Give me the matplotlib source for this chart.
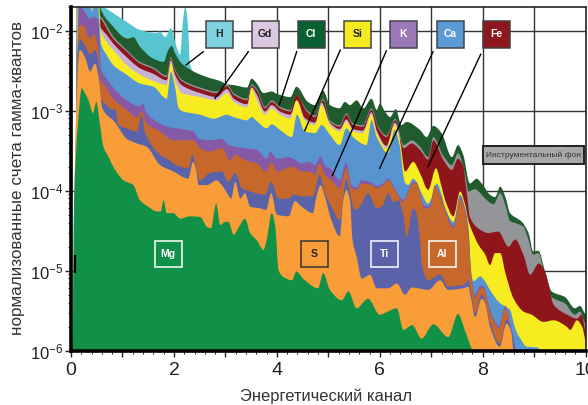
import matplotlib
matplotlib.use("Agg")
import matplotlib.pyplot as plt
import numpy as np
from matplotlib.patches import PathPatch, Rectangle
from matplotlib.path import Path

plt.rcParams.update(
    {
        "font.family": ["Liberation Sans", "DejaVu Sans"],
        "mathtext.fontset": "custom",
        "mathtext.rm": "Liberation Sans",
        "mathtext.default": "regular",
    }
)

# upper edge of every coloured band, log10 of the normalised counts
h_x = [0.10, 0.15, 0.56, 0.82, 1.08, 1.34, 1.67, 1.73, 1.83, 1.94, 2.05, 2.12, 2.17, 2.22, 2.27, 2.31, 2.37, 2.44, 2.60]
h_y = [-3.0, -1.60, -1.68, -1.78, -1.89, -1.99, -2.03, -2.01, -2.08, -1.97, -2.20, -2.30, -1.91, -1.70, -1.91, -2.41, -2.51, -2.55, -6.0]

cl_x = [0.03, 0.05, 0.08, 0.10, 0.11, 0.50, 0.56, 0.63, 0.82, 1.02, 1.11, 1.21, 1.34, 1.60, 1.80, 1.89, 1.96, 2.02, 2.15, 2.38, 2.64, 2.90, 3.03, 3.16, 3.42, 3.51, 3.61, 3.74, 3.90, 4.00, 4.26, 4.38, 4.60, 4.74, 4.90, 5.03, 5.22, 5.32, 5.42, 5.55, 5.68, 5.84, 5.94, 6.00, 6.10, 6.20, 6.31, 6.42, 6.52, 6.78, 6.91, 7.04, 7.20, 7.40, 7.52, 7.62, 7.75, 7.88, 7.98, 8.14, 8.24, 8.34, 8.44, 8.53, 8.76, 8.89, 8.98, 9.08, 9.21, 9.34, 9.60, 9.79, 9.89, 10.01]
cl_y = [-6.0, -5.3, -4.0, -3.0, -1.6, -1.6, -1.70, -1.80, -1.95, -2.08, -2.10, -2.08, -2.20, -2.35, -2.39, -2.24, -2.19, -2.28, -2.41, -2.51, -2.58, -2.63, -2.67, -2.68, -2.71, -2.60, -2.66, -2.78, -2.76, -2.79, -2.83, -2.70, -2.89, -2.93, -2.75, -2.93, -2.97, -2.89, -2.93, -2.87, -2.97, -2.85, -2.99, -2.91, -3.01, -3.08, -2.98, -3.18, -3.14, -3.24, -3.33, -3.19, -3.28, -3.58, -3.43, -3.55, -3.91, -3.85, -3.91, -4.05, -4.08, -3.95, -4.08, -4.28, -4.39, -4.53, -4.76, -4.75, -5.01, -5.26, -5.33, -5.47, -5.44, -5.55]

bg_x = [0.11, 0.13, 0.60, 0.82, 1.08, 1.34, 1.60, 1.86, 1.94, 2.02, 2.15, 2.51, 2.83, 3.03, 3.16, 3.42, 3.51, 3.61, 3.77, 3.90, 4.06, 4.26, 4.39, 4.58, 4.74, 4.90, 5.03, 5.22, 5.35, 5.48, 5.67, 5.84, 5.97, 6.13, 6.30, 6.46, 6.62, 6.78, 6.94, 7.04, 7.23, 7.40, 7.52, 7.66, 7.72, 7.85, 7.95, 8.05, 8.21, 8.34, 8.44, 8.53, 8.66, 8.79, 8.89, 8.98, 9.08, 9.20, 9.34, 9.60, 9.79, 9.89, 10.01]
bg_y = [-4.0, -1.6, -1.84, -2.07, -2.24, -2.39, -2.46, -2.56, -2.33, -2.48, -2.61, -2.71, -2.76, -2.67, -2.78, -2.85, -2.67, -2.73, -2.95, -2.87, -2.95, -2.99, -2.81, -2.99, -3.06, -2.85, -3.12, -3.18, -3.03, -3.16, -3.18, -2.97, -3.20, -3.31, -3.10, -3.43, -3.37, -3.45, -3.58, -3.33, -3.56, -3.68, -3.53, -3.80, -4.01, -3.98, -4.03, -4.10, -4.17, -4.03, -4.18, -4.38, -4.41, -4.45, -4.62, -4.80, -4.78, -5.05, -5.33, -5.41, -5.55, -5.51, -5.68]

fe_x = [0.11, 0.13, 0.60, 0.69, 0.82, 1.08, 1.34, 1.60, 1.86, 1.94, 2.02, 2.15, 2.51, 2.83, 3.03, 3.16, 3.42, 3.51, 3.61, 3.77, 3.90, 4.06, 4.26, 4.38, 4.58, 4.74, 4.90, 5.03, 5.22, 5.35, 5.48, 5.67, 5.84, 5.97, 6.13, 6.30, 6.46, 6.62, 6.78, 6.94, 7.04, 7.23, 7.40, 7.52, 7.62, 7.69, 7.75, 7.91, 8.11, 8.30, 8.50, 8.63, 8.79, 8.92, 9.09, 9.22, 9.38, 9.64, 9.83, 9.92, 10.01]
fe_y = [-4.0, -1.6, -1.87, -1.97, -2.10, -2.26, -2.41, -2.48, -2.58, -2.35, -2.50, -2.63, -2.73, -2.78, -2.69, -2.80, -2.87, -2.69, -2.75, -2.97, -2.89, -2.97, -3.01, -2.80, -3.01, -3.08, -2.87, -3.14, -3.20, -3.05, -3.18, -3.20, -2.99, -3.22, -3.33, -3.12, -3.47, -3.41, -3.49, -3.61, -3.37, -3.61, -3.74, -3.60, -3.70, -4.03, -4.33, -4.47, -4.53, -4.51, -4.70, -4.61, -4.80, -5.05, -4.91, -5.03, -5.43, -5.55, -5.60, -5.55, -5.78]

gd_x = [0.11, 0.13, 0.58, 0.69, 0.82, 1.08, 1.34, 1.60, 1.86, 1.94, 2.02, 2.15, 2.51, 2.83, 3.03, 3.16, 3.42, 3.51, 3.61, 3.77, 3.90, 4.06, 4.26, 4.39, 4.54, 4.74, 4.87, 5.03, 5.22, 5.35, 5.48, 5.67, 5.84, 5.94, 6.13, 6.29, 6.39, 6.41]
gd_y = [-4.0, -1.6, -1.97, -2.05, -2.16, -2.33, -2.47, -2.54, -2.62, -2.37, -2.55, -2.68, -2.78, -2.83, -2.73, -2.85, -2.92, -2.71, -2.80, -3.01, -2.93, -3.01, -3.05, -2.87, -3.09, -3.15, -2.90, -3.15, -3.23, -3.11, -3.23, -3.25, -3.02, -3.25, -3.44, -3.15, -3.34, -6.0]

si_x = [0.11, 0.13, 0.55, 0.58, 0.69, 0.82, 1.08, 1.34, 1.60, 1.86, 1.94, 2.02, 2.15, 2.51, 2.83, 3.03, 3.16, 3.42, 3.51, 3.61, 3.77, 3.90, 4.06, 4.26, 4.38, 4.54, 4.74, 4.87, 5.03, 5.22, 5.35, 5.48, 5.67, 5.84, 5.94, 6.13, 6.29, 6.39, 6.49, 6.65, 6.78, 6.94, 7.09, 7.20, 7.27, 7.43, 7.56, 7.66, 7.72, 7.79, 7.92, 8.05, 8.14, 8.24, 8.34, 8.44, 8.60, 8.79, 8.95, 9.18, 9.38, 9.63, 9.70, 9.83, 9.93, 10.02]
si_y = [-4.0, -1.6, -1.7, -2.01, -2.14, -2.24, -2.43, -2.55, -2.63, -2.68, -2.41, -2.62, -2.78, -2.83, -2.87, -2.78, -2.89, -2.96, -2.72, -2.87, -3.05, -2.97, -3.05, -3.10, -2.87, -3.12, -3.18, -2.93, -3.18, -3.26, -3.14, -3.26, -3.28, -3.05, -3.28, -3.47, -3.18, -3.37, -3.76, -3.64, -3.78, -3.99, -3.72, -3.95, -4.12, -4.32, -4.01, -4.18, -4.37, -4.50, -4.68, -4.80, -4.93, -4.78, -4.78, -5.03, -5.35, -5.51, -5.55, -5.64, -5.62, -5.70, -5.74, -5.62, -5.70, -5.91]

ca_x = [0.03, 0.09, 0.12, 0.15, 0.36, 0.41, 0.45, 0.51, 0.55, 0.58, 0.69, 0.82, 1.08, 1.34, 1.60, 1.86, 1.94, 2.02, 2.09, 2.18, 2.51, 2.77, 3.03, 3.16, 3.42, 3.51, 3.61, 3.80, 3.90, 4.06, 4.29, 4.39, 4.54, 4.74, 4.87, 5.03, 5.22, 5.35, 5.48, 5.74, 5.84, 5.94, 6.16, 6.29, 6.39, 6.45, 6.49, 6.55, 6.65, 6.78, 6.94, 7.04, 7.11, 7.20, 7.27, 7.43, 7.56, 7.66, 7.72, 7.78, 7.82, 7.95, 8.03, 8.14, 8.31, 8.44, 8.53, 8.63, 8.73, 8.86, 9.08, 9.11]
ca_y = [-6.0, -3.7, -2.3, -1.6, -1.6, -1.76, -1.6, -1.6, -1.85, -2.16, -2.30, -2.43, -2.55, -2.66, -2.70, -2.85, -2.51, -2.70, -2.97, -3.01, -3.05, -3.10, -3.05, -3.08, -3.12, -3.08, -3.13, -3.22, -3.17, -3.24, -3.33, -3.05, -3.26, -3.28, -3.18, -3.30, -3.43, -3.22, -3.33, -3.43, -3.12, -3.33, -3.53, -3.24, -3.45, -3.78, -3.90, -3.93, -3.85, -3.99, -4.16, -4.03, -3.91, -4.05, -4.22, -4.39, -4.05, -4.22, -4.45, -5.04, -5.13, -5.07, -5.12, -5.24, -5.39, -5.45, -5.49, -5.72, -5.85, -5.95, -5.96, -6.05]

k_x = [0.03, 0.09, 0.13, 0.15, 0.26, 0.36, 0.45, 0.53, 0.56, 0.58, 0.69, 0.82, 1.08, 1.34, 1.39, 1.47, 1.67, 1.86, 2.25, 2.38, 2.48, 2.70, 2.93, 3.06, 3.19, 3.38, 3.61, 3.80, 3.87, 4.00, 4.23, 4.32, 4.48, 4.64, 4.74, 4.85, 4.93, 5.06, 5.22, 5.35, 5.45, 5.55, 5.64, 5.84, 5.94, 6.06, 6.16, 6.29, 6.45, 6.65, 6.71, 6.87, 6.97, 7.07, 7.11, 7.20, 7.27, 7.43, 7.56, 7.66, 7.72, 7.78, 7.85, 7.95, 8.01, 8.14, 8.31, 8.44, 8.53, 8.60, 8.65]
k_y = [-6.0, -3.9, -2.4, -1.68, -1.76, -1.85, -1.83, -1.87, -2.2, -2.47, -2.60, -2.71, -2.87, -2.95, -2.91, -3.03, -3.14, -3.20, -3.24, -3.26, -3.35, -3.37, -3.35, -3.43, -3.45, -3.47, -3.49, -3.60, -3.51, -3.60, -3.58, -3.60, -3.66, -3.64, -3.68, -3.57, -3.68, -3.74, -3.87, -3.65, -3.93, -3.96, -3.87, -3.90, -3.94, -3.91, -3.85, -3.97, -4.11, -3.89, -3.89, -4.19, -4.19, -3.93, -3.96, -4.09, -4.22, -4.44, -4.07, -4.25, -4.50, -5.07, -5.30, -5.19, -5.19, -5.48, -5.69, -5.44, -5.65, -5.95, -6.05]

al_x = [0.03, 0.08, 0.12, 0.15, 0.23, 0.36, 0.45, 0.53, 0.58, 0.69, 0.82, 1.08, 1.28, 1.37, 1.47, 1.73, 1.99, 2.38, 2.51, 2.70, 2.93, 3.09, 3.19, 3.38, 3.61, 3.79, 3.89, 4.00, 4.23, 4.32, 4.48, 4.64, 4.74, 4.83, 4.93, 5.06, 5.22, 5.35, 5.45, 5.55, 5.64, 5.84, 5.94, 6.06, 6.16, 6.29, 6.45, 6.65, 6.71, 6.87, 6.97, 7.07, 7.11, 7.20, 7.27, 7.43, 7.56, 7.66, 7.72, 7.78, 7.85, 7.95, 8.01, 8.14, 8.31, 8.44, 8.53, 8.60, 8.65]
al_y = [-6.0, -4.0, -2.6, -1.95, -1.93, -2.10, -2.05, -2.24, -2.62, -2.72, -2.85, -2.99, -3.08, -3.01, -3.16, -3.26, -3.37, -3.37, -3.47, -3.51, -3.47, -3.62, -3.55, -3.62, -3.66, -3.76, -3.64, -3.76, -3.71, -3.70, -3.76, -3.76, -3.80, -3.66, -3.80, -3.87, -3.97, -3.72, -3.97, -3.99, -3.91, -3.93, -3.97, -3.93, -3.87, -3.99, -4.14, -3.91, -3.91, -4.22, -4.22, -3.95, -3.98, -4.12, -4.26, -4.47, -4.10, -4.28, -4.53, -5.10, -5.35, -5.22, -5.22, -5.51, -5.72, -5.47, -5.68, -5.97, -6.05]

ti_x = [0.03, 0.07, 0.11, 0.14, 0.17, 0.27, 0.37, 0.47, 0.55, 0.58, 0.69, 0.82, 0.86, 0.92, 1.08, 1.28, 1.37, 1.44, 1.73, 1.86, 2.05, 2.28, 2.36, 2.44, 2.50, 2.70, 2.93, 3.06, 3.19, 3.32, 3.48, 3.77, 3.89, 4.03, 4.23, 4.32, 4.48, 4.70, 4.83, 4.93, 5.06, 5.22, 5.35, 5.45, 5.51, 5.61, 5.77, 5.94, 6.06, 6.16, 6.26, 6.36, 6.45, 6.52, 6.65, 6.71, 6.78, 6.81, 6.94, 7.17, 7.33, 7.46, 7.62, 7.72, 7.78, 7.85, 7.98, 8.04, 8.14, 8.33, 8.46, 8.56, 8.66]
ti_y = [-6.0, -4.3, -2.9, -2.2, -2.11, -2.18, -2.30, -2.24, -2.45, -2.85, -2.93, -2.99, -2.98, -3.18, -3.22, -3.26, -3.05, -3.28, -3.55, -3.60, -3.68, -3.72, -3.55, -3.74, -3.87, -3.78, -3.76, -3.89, -3.78, -3.97, -4.01, -4.05, -3.89, -4.10, -4.10, -4.05, -4.07, -4.07, -3.80, -4.03, -4.20, -4.37, -3.85, -4.12, -4.24, -4.20, -4.03, -4.22, -4.18, -4.03, -4.14, -4.12, -4.28, -4.57, -4.22, -4.28, -4.62, -4.91, -5.12, -5.05, -5.20, -5.19, -5.18, -5.12, -5.30, -5.53, -5.30, -5.35, -5.64, -5.91, -5.61, -5.74, -6.0]

s_x = [0.03, 0.06, 0.10, 0.14, 0.17, 0.27, 0.37, 0.47, 0.55, 0.60, 0.69, 0.82, 0.90, 1.08, 1.28, 1.47, 1.73, 1.99, 2.28, 2.37, 2.43, 2.48, 2.64, 2.83, 2.93, 3.03, 3.11, 3.19, 3.29, 3.38, 3.48, 3.67, 3.79, 3.89, 4.00, 4.23, 4.35, 4.48, 4.70, 4.77, 4.85, 4.93, 5.06, 5.22, 5.29, 5.35, 5.42, 5.47, 5.55, 5.65, 5.81, 5.94, 6.16, 6.33, 6.49, 6.62, 6.94, 7.17, 7.33, 7.62, 7.72, 7.78, 7.85, 7.98, 8.04, 8.14, 8.33, 8.46, 8.56, 8.59, 8.62]
s_y = [-6.0, -4.2, -3.0, -2.4, -2.24, -2.33, -2.51, -2.41, -2.64, -2.95, -3.05, -3.12, -3.19, -3.35, -3.41, -3.45, -3.68, -3.76, -3.85, -3.64, -3.74, -3.93, -3.93, -3.87, -3.93, -4.03, -4.10, -3.89, -4.10, -4.03, -4.20, -4.22, -4.24, -4.03, -4.30, -4.32, -4.13, -4.20, -4.28, -4.07, -3.93, -4.07, -4.37, -4.57, -4.12, -3.99, -4.12, -4.62, -4.83, -5.10, -5.05, -5.22, -5.22, -5.16, -5.30, -5.21, -5.24, -5.12, -5.24, -5.22, -5.20, -5.37, -5.58, -5.35, -5.39, -5.70, -5.95, -5.66, -5.78, -5.99, -6.05]

mg_x = [0.03, 0.06, 0.10, 0.13, 0.21, 0.27, 0.34, 0.43, 0.49, 0.56, 0.63, 0.73, 0.82, 1.02, 1.21, 1.34, 1.50, 1.67, 1.74, 1.80, 1.86, 1.99, 2.12, 2.31, 2.51, 2.64, 2.72, 2.82, 2.90, 2.99, 3.06, 3.16, 3.25, 3.38, 3.48, 3.61, 3.74, 3.80, 3.90, 3.97, 4.03, 4.13, 4.29, 4.38, 4.51, 4.80, 4.90, 5.03, 5.26, 5.39, 5.55, 5.77, 6.00, 6.16, 6.33, 6.46, 6.63, 6.81, 7.04, 7.33, 7.52, 7.65, 7.80, 7.88]
mg_y = [-6.0, -4.1, -3.5, -3.2, -2.72, -2.78, -2.87, -3.03, -2.89, -3.16, -3.45, -3.58, -3.70, -3.87, -3.93, -4.12, -4.20, -4.26, -4.26, -4.12, -4.28, -4.28, -4.35, -4.32, -4.33, -4.45, -4.47, -4.16, -4.43, -4.39, -4.39, -4.55, -4.47, -4.35, -4.53, -4.62, -4.74, -4.62, -4.28, -4.45, -4.99, -5.08, -5.12, -5.01, -5.10, -5.22, -5.03, -5.24, -5.37, -5.26, -5.47, -5.35, -5.55, -5.51, -5.47, -5.74, -5.68, -5.85, -5.67, -5.83, -5.54, -5.74, -5.99, -6.05]

# back to front, each band hides everything below its own edge
bands = [
    (h_x, h_y, "#56C5D0"),
    (cl_x, cl_y, "#1F5B2D"),
    (bg_x, bg_y, "#939598"),
    (fe_x, fe_y, "#8E161B"),
    (gd_x, gd_y, "#C8B3D8"),
    (si_x, si_y, "#F7EC1F"),
    (ca_x, ca_y, "#5895D0"),
    (k_x, k_y, "#8559A5"),
    (al_x, al_y, "#C6682B"),
    (ti_x, ti_y, "#5A63AA"),
    (s_x, s_y, "#F99D39"),
    (mg_x, mg_y, "#119047"),
]

box_names = ["H", "Gd", "Cl", "Si", "K", "Ca", "Fe"]
box_fill = ["#7FD3DF", "#DBC7E2", "#06602F", "#F6EB20", "#9A79B6", "#5B9BD5", "#8E171D"]
box_text = ["#222222", "#222222", "white", "#222222", "white", "white", "white"]
box_left = [206, 252, 298, 344, 390, 437, 483]
# start and end of the leader lines, pixels of the picture
leaders = [
    (203.3, 51.7, 186, 65),
    (248.3, 51.7, 215, 98.3),
    (296.7, 51.7, 279.3, 105),
    (340.3, 50, 304.7, 130.7),
    (386.3, 51, 332.3, 175.7),
    (433, 51.7, 379.7, 168.3),
    (480.7, 54.3, 428, 166.7),
]
open_names = ["Mg", "S", "Ti", "Al"]
open_left = [155, 301, 371, 429]
open_edge = ["white", "#333333", "white", "white"]
open_text = ["white", "#222222", "white", "white"]

W, H = 588, 405
L, R, T, B = 71, 585.7, 6.5, 350.7


def ax_xy(px, py):
    return (px - L) / (R - L), (B - py) / (B - T)


def band_path(x, y):
    # closed outline whose top runs through the points with rounded peaks
    x = np.array(x)
    y = np.array(y)
    dx = np.diff(x)
    sec = np.diff(y) / dx
    m = np.zeros(len(x))
    for i in range(1, len(x) - 1):
        if sec[i - 1] * sec[i] > 0:
            m[i] = 2 * sec[i - 1] * sec[i] / (sec[i - 1] + sec[i])
    verts = [(x[0], -6.0), (x[0], y[0])]
    codes = [Path.MOVETO, Path.LINETO]
    for i in range(len(dx)):
        verts += [
            (x[i] + dx[i] / 3, y[i] + m[i] * dx[i] / 3),
            (x[i + 1] - dx[i] / 3, y[i + 1] - m[i + 1] * dx[i] / 3),
            (x[i + 1], y[i + 1]),
        ]
        codes += [Path.CURVE4] * 3
    verts += [(x[-1], -6.0), (x[0], -6.0)]
    codes += [Path.LINETO, Path.CLOSEPOLY]
    verts = np.array(verts)
    verts[:, 1] = 10 ** verts[:, 1]
    return Path(verts, codes)


fig = plt.figure(figsize=(W / 100, H / 100), dpi=100)
ax = fig.add_axes([L / W, (H - B) / H, (R - L) / W, (B - T) / H])

ax.set_yscale("log")
for x, y, color in bands:
    ax.add_patch(PathPatch(band_path(x, y), facecolor=color, edgecolor="none", linewidth=0, zorder=2))

ax.plot([0.08, 0.08], [10**-5.03, 10**-4.8], color="black", lw=1.6, solid_capstyle="butt", zorder=3)

ax.set_xlim(0, 10)
ax.set_ylim(1e-6, 10**-1.6975)

ax.set_axisbelow(True)
ax.grid(True, which="major", color="#333333", lw=1.0)
ax.set_xticks(np.arange(0, 11, 1))
ax.set_xticks(np.arange(0, 10.01, 0.2), minor=True)
ax.set_xticklabels(["0", "", "2", "", "4", "", "6", "", "8", "", "10"], fontsize=14)
ax.set_yticks([1e-6, 1e-5, 1e-4, 1e-3, 1e-2])
ax.set_yticklabels([r"$10^{-6}$", r"$10^{-5}$", r"$10^{-4}$", r"$10^{-3}$", r"$10^{-2}$"], fontsize=12)
ax.tick_params(axis="both", which="major", length=4, width=1.0, pad=1.5, color="#222222", labelcolor="#222222")
ax.tick_params(axis="both", which="minor", length=2, width=0.7, color="#222222")
ax.tick_params(axis="x", which="major", pad=4)

for side in ["left", "bottom"]:
    ax.spines[side].set_linewidth(2.6)
    ax.spines[side].set_zorder(6)
for side in ["top", "right"]:
    ax.spines[side].set_linewidth(1.2)
    ax.spines[side].set_color("#222222")

fig.text(18 / W, 1 - 178 / H, "нормализованные счета гамма-квантов", rotation=90, fontsize=12.3,
         color="#333333", ha="center", va="center")
fig.text(326 / W, 1 - 396 / H, "Энергетический канал", fontsize=11.9, color="#333333", ha="center", va="center")

for xy in leaders:
    x0, y0 = ax_xy(xy[0], xy[1])
    x1, y1 = ax_xy(xy[2], xy[3])
    ax.plot([x0, x1], [y0, y1], color="black", lw=1.0, transform=ax.transAxes, zorder=4)

bw = 26.5 / (R - L)
bh = 26.5 / (B - T)
for name, fill, tc, left in zip(box_names, box_fill, box_text, box_left):
    x0, y0 = ax_xy(left, 47.5)
    ax.add_patch(Rectangle((x0, y0), bw, bh, transform=ax.transAxes, facecolor=fill, edgecolor="#444444", lw=1.1, zorder=5))
    ax.text(x0 + bw / 2, y0 + bh / 2, name, transform=ax.transAxes, color=tc, fontsize=7.5, fontweight="bold",
            ha="center", va="center", zorder=6)

for name, edge, tc, left in zip(open_names, open_edge, open_text, open_left):
    x0, y0 = ax_xy(left, 267)
    ax.add_patch(Rectangle((x0, y0), bw, bh, transform=ax.transAxes, facecolor="none", edgecolor=edge, lw=1.1, zorder=5))
    ax.text(x0 + bw / 2, y0 + bh / 2, name, transform=ax.transAxes, color=tc, fontsize=7.5, fontweight="bold",
            ha="center", va="center", zorder=6)

x0, y0 = ax_xy(483, 164)
ax.add_patch(Rectangle((x0, y0), 101 / (R - L), 18.3 / (B - T), transform=ax.transAxes, facecolor="#A8A8A8",
                       edgecolor="#222222", lw=1.4, zorder=5))
ax.text(x0 + 50.5 / (R - L), y0 + 9.1 / (B - T), "Инструментальный фон", transform=ax.transAxes, color="#333333",
        fontsize=6, ha="center", va="center", zorder=6)

fig.savefig("out.png", dpi=100)
